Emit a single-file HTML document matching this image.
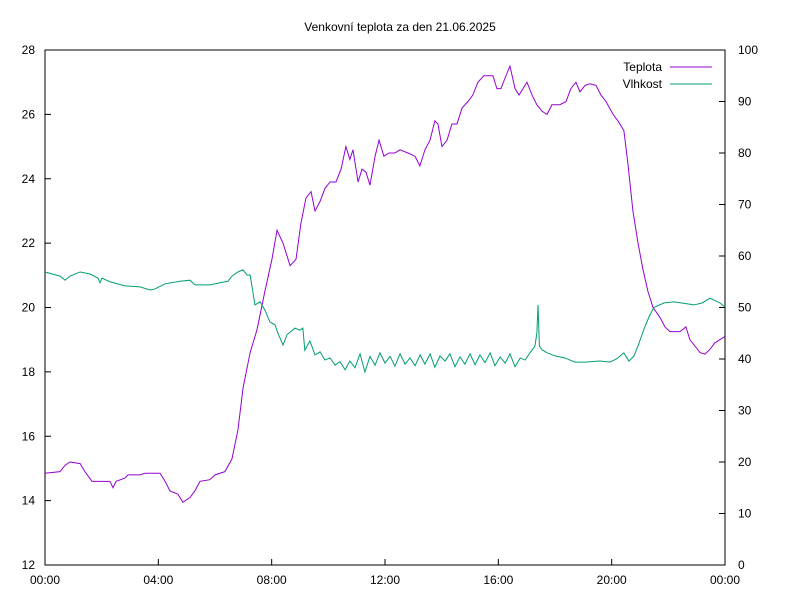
<!DOCTYPE html>
<html><head><meta charset="utf-8"><style>
body{margin:0;background:#fff;font-family:"Liberation Sans",sans-serif}
svg text{font-family:"Liberation Sans",sans-serif;font-size:12px;fill:#000}
</style></head><body>
<svg id="c" width="800" height="600"></svg>
<script>
const tempHours=[0,0.53,0.71,0.88,1.24,1.41,1.66,1.94,2.29,2.40,2.51,2.82,2.93,3.35,3.53,4.06,4.24,4.41,4.69,4.87,5.12,5.29,5.47,5.82,6.00,6.35,6.60,6.81,6.99,7.24,7.48,7.76,8.01,8.19,8.40,8.65,8.86,9.03,9.21,9.39,9.53,9.71,9.88,10.06,10.27,10.45,10.62,10.76,10.87,11.05,11.19,11.33,11.47,11.65,11.79,11.96,12.14,12.35,12.53,12.81,13.06,13.23,13.41,13.59,13.76,13.87,14.01,14.19,14.36,14.54,14.72,14.93,15.10,15.28,15.49,15.81,15.95,16.09,16.27,16.41,16.59,16.73,16.87,17.01,17.19,17.36,17.54,17.72,17.89,18.17,18.39,18.56,18.74,18.88,19.06,19.23,19.45,19.62,19.80,20.05,20.22,20.43,20.57,20.75,20.93,21.10,21.28,21.46,21.70,21.88,22.06,22.41,22.62,22.76,22.94,23.12,23.29,23.47,23.64,23.82,24];
const tempValues=[14.85,14.9,15.1,15.2,15.15,14.9,14.6,14.6,14.6,14.4,14.6,14.7,14.8,14.8,14.85,14.85,14.6,14.3,14.2,13.95,14.1,14.3,14.6,14.65,14.8,14.9,15.3,16.2,17.5,18.6,19.3,20.5,21.5,22.4,22.0,21.3,21.5,22.6,23.4,23.6,23.0,23.3,23.7,23.9,23.9,24.3,25.0,24.6,24.9,23.9,24.3,24.2,23.8,24.7,25.2,24.7,24.8,24.8,24.9,24.8,24.7,24.4,24.9,25.2,25.8,25.7,25.0,25.2,25.7,25.7,26.2,26.4,26.6,27.0,27.2,27.2,26.8,26.8,27.2,27.5,26.8,26.6,26.8,27.0,26.6,26.3,26.1,26.0,26.3,26.3,26.4,26.8,27.0,26.7,26.9,26.95,26.9,26.6,26.4,26.0,25.8,25.5,24.5,23.0,22.0,21.2,20.5,20.0,19.7,19.4,19.25,19.25,19.4,19.0,18.8,18.6,18.55,18.7,18.9,19.0,19.1];
const humHours=[0,0.53,0.71,0.88,1.24,1.59,1.87,1.94,2.01,2.29,2.82,3.35,3.71,3.88,4.24,4.77,5.12,5.29,5.82,6.18,6.46,6.60,6.81,6.99,7.13,7.24,7.41,7.59,7.76,7.94,8.12,8.22,8.40,8.54,8.82,9.00,9.10,9.17,9.35,9.53,9.71,9.88,10.06,10.24,10.41,10.59,10.76,10.94,11.12,11.29,11.47,11.65,11.82,12.00,12.18,12.35,12.53,12.71,12.88,13.06,13.24,13.41,13.59,13.76,13.94,14.12,14.29,14.47,14.65,14.82,15.00,15.18,15.35,15.53,15.71,15.88,16.06,16.24,16.41,16.59,16.77,16.94,17.12,17.29,17.36,17.40,17.45,17.54,17.72,18.00,18.35,18.70,19.06,19.59,19.94,20.17,20.43,20.61,20.79,20.96,21.14,21.32,21.49,21.85,22.20,22.56,22.91,23.20,23.47,23.82,24];
const humValues=[56.9,56.1,55.3,56.1,56.9,56.5,55.7,54.8,55.7,55.0,54.2,54.0,53.4,53.6,54.6,55.1,55.3,54.4,54.4,54.8,55.1,56.1,56.9,57.3,56.3,56.3,50.5,51.1,49.5,47.2,46.6,45.0,42.7,44.7,46.0,45.6,46.0,41.7,43.5,40.8,41.4,39.8,40.2,38.8,39.5,37.9,39.6,38.3,41.0,37.5,40.5,38.8,41.2,39.2,40.5,38.6,41.0,39.0,40.2,38.7,40.8,39.0,41.0,38.4,40.6,39.6,41.0,38.5,40.4,39.0,41.0,38.9,40.8,39.3,41.2,38.7,40.4,39.2,41.0,38.5,40.2,39.8,41.2,42.5,45.0,50.5,42.5,41.8,41.2,40.6,40.2,39.4,39.4,39.6,39.4,40.0,41.2,39.6,40.6,43.0,45.8,48.2,50.0,50.9,51.1,50.8,50.5,50.9,51.8,50.9,50.1];
const leftTicks=[12,14,16,18,20,22,24,26,28];
const rightTicks=[0,10,20,30,40,50,60,70,80,90,100];
const xTickHours=[0,4,8,12,16,20,24];
const xTickLabels=["00:00","04:00","08:00","12:00","16:00","20:00","00:00"];

const L=45,R=725,T=50,B=565;
const xs=h=>L+h/24*(R-L);
const yT=v=>B-(v-12)/16*(B-T);
const yH=v=>B-v/100*(B-T);
const svg=document.getElementById('c');
const NS='http://www.w3.org/2000/svg';
function mk(tag,attrs,parent){const e=document.createElementNS(NS,tag);for(const k in attrs)e.setAttribute(k,attrs[k]);(parent||svg).appendChild(e);return e;}
function txt(x,y,s,anchor){const t=mk('text',{x:x,y:y,'text-anchor':anchor});t.textContent=s;return t;}

const frame=mk('rect',{x:L,y:T,width:R-L,height:B-T,fill:'none',stroke:'#000','stroke-width':1});



leftTicks.forEach(v=>{const y=yT(v);
 const l=mk('line',{x1:L,y1:y,x2:L+6,y2:y,stroke:'#000'});
 
 
 const t=txt(L-10,y+4,String(v),'end');
 
 });
rightTicks.forEach(v=>{const y=yH(v);
 const l=mk('line',{x1:R-6,y1:y,x2:R,y2:y,stroke:'#000'});
 
 
 const t=txt(R+13,y+4,String(v),'start');
 
 });
xTickHours.forEach((h,i)=>{const x=xs(h);
 const l=mk('line',{x1:x,y1:B,x2:x,y2:B-6,stroke:'#000'});
 
 
 const t=txt(x,B+19,xTickLabels[i],'middle');
 
 });

const title=txt(400,31,'Venkovní teplota za den 21.06.2025','middle');



const tl=mk('polyline',{points:tempHours.map((h,i)=>xs(h)+','+yT(tempValues[i])).join(' '),fill:'none',stroke:'#9400d3','stroke-width':1});


const hl=mk('polyline',{points:humHours.map((h,i)=>xs(h)+','+yH(humValues[i])).join(' '),fill:'none',stroke:'#009e73','stroke-width':1});



const lt=txt(662,71,'Teplota','end');


const ll=mk('line',{x1:670,y1:67,x2:712,y2:67,stroke:'#9400d3'});


const ht=txt(662,88,'Vlhkost','end');


const hs=mk('line',{x1:670,y1:84,x2:712,y2:84,stroke:'#009e73'});


</script>
</body></html>
